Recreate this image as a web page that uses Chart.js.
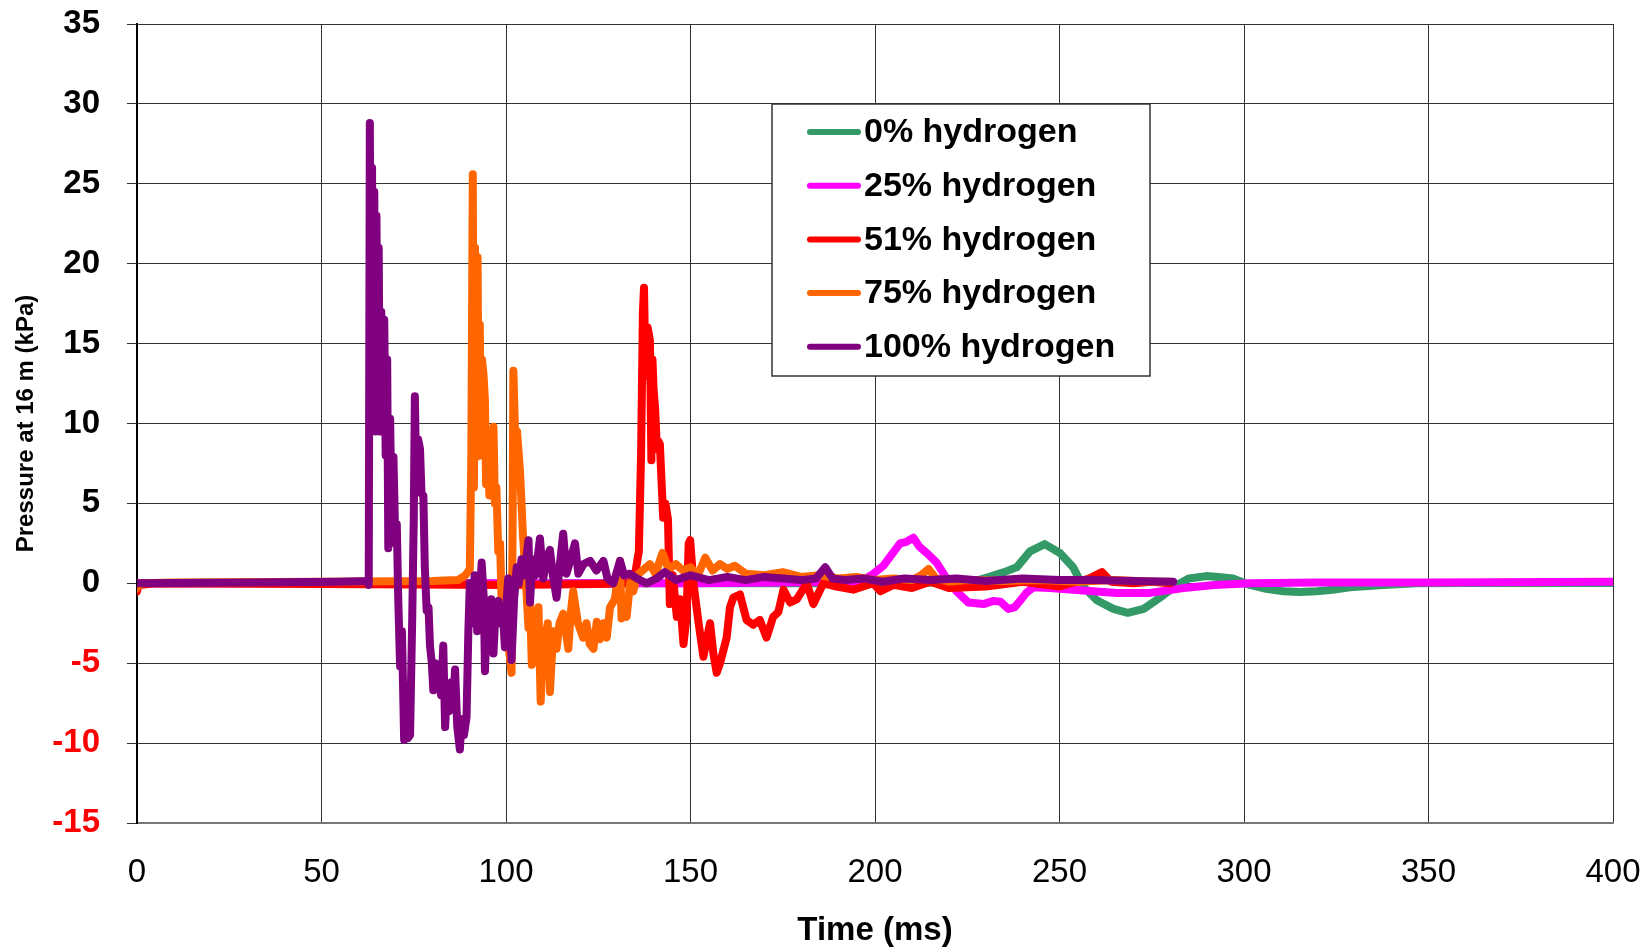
<!DOCTYPE html>
<html>
<head>
<meta charset="utf-8">
<title>Pressure at 16 m</title>
<script src="https://cdn.jsdelivr.net/npm/chart.js@4.4.1/dist/chart.umd.min.js"></script>
<style>
  html, body { margin: 0; padding: 0; background: #fff; }
  #wrap { width: 1652px; height: 949px; position: relative; }
</style>
</head>
<body>
<div id="wrap"><canvas id="pressureChart"></canvas></div>
<script>
const FONT = 'Arial, "Liberation Sans", sans-serif';

const seriesLabels = ["0% hydrogen", "25% hydrogen", "51% hydrogen", "75% hydrogen", "100% hydrogen"];
const seriesColors = ["#339966", "#FF00FF", "#FF0000", "#FF6600", "#800080"];

// [time (ms), pressure (kPa)]
const h0 = [[0,0],[100,0],[200,0],[220,0.05],[228,0.2],[231,0.4],[235,0.7],[238.4,1.0],[242,2.0],[246,2.45],
  [250.1,1.9],[253.7,1.0],[256.4,-0.2],[260.1,-1.06],[264.6,-1.6],[268.5,-1.85],[272.8,-1.6],[277.2,-0.9],
  [281.8,-0.1],[285,0.3],[289.8,0.45],[293,0.4],[297,0.3],[301.6,-0.1],[306,-0.35],[310.7,-0.5],[315,-0.55],
  [319.7,-0.5],[324,-0.4],[328.7,-0.25],[337.7,-0.1],[346.8,0],[360,0.02],[400,0.02]];

const h25 = [[0,0],[150,0],[196,0.1],[199,0.5],[202.3,1.1],[204.5,1.8],[206.8,2.5],[208.5,2.6],[210.4,2.85],
  [212,2.3],[214,1.9],[216.7,1.3],[219.4,0.3],[222.1,-0.5],[225.3,-1.2],[229.4,-1.3],[232.1,-1.1],[234,-1.15],
  [236.1,-1.6],[237.8,-1.5],[239.3,-1.1],[241,-0.6],[242.9,-0.25],[247.4,-0.3],[256.4,-0.45],[265.5,-0.6],
  [274.5,-0.6],[283.6,-0.3],[292,-0.1],[301.6,0],[320,0.05],[350,0.05],[400,0.1]];

const h51 = [[0,-0.5],[0.5,-0.1],[5,0],[50,-0.05],[100,-0.1],[125,-0.05],[133.5,0],[135,0.6],[136,2],[136.6,8],
  [137.1,17],[137.4,18.5],[137.8,13],[138.4,16],[139.0,15.2],[139.4,7.7],[139.7,14],[140.0,12.1],[140.4,11.0],
  [140.9,8.4],[141.3,8.9],[141.7,8.7],[142.6,4.1],[143.2,5],[143.9,4.0],[144.4,-1.3],[145.2,0.5],[146.3,-2.1],
  [147.2,-1.0],[148.1,-3.8],[148.9,-2.2],[149.5,2.5],[149.9,2.7],[150.8,0],[152.2,-2.5],[153.5,-4.6],[154.4,-3.5],
  [155.3,-2.5],[156.2,-4.4],[157.1,-5.6],[158.0,-5.0],[158.9,-4.2],[159.8,-3.4],[160.7,-1.5],[161.6,-0.9],
  [163.4,-0.7],[165.2,-2.3],[167.0,-2.6],[168.8,-2.3],[170.6,-3.4],[172.4,-2.1],[173.8,-1.8],[175.2,-0.4],
  [177,-1.2],[178.8,-1.0],[181.5,0],[183.3,-1.3],[186.0,0],[189.6,-0.2],[194.1,-0.4],[199.5,0],[201.5,-0.5],
  [205,-0.1],[210,-0.3],[215,0.1],[220,-0.3],[230,-0.2],[240,0.1],[250,-0.2],[258,0.3],[261.5,0.7],[264,0.1],
  [270,0],[275,0.1],[280,0]];

const h75 = [[0,-0.3],[1,0],[10,0.05],[50,0.1],[80,0.15],[87,0.2],[89,0.5],[90.2,0.9],[90.6,8],[91.0,25.6],
  [91.3,6],[91.6,21],[92.0,7.9],[92.3,20.4],[92.6,8.5],[92.9,16.2],[93.2,8],[93.5,14],[93.9,13.1],[94.3,11.4],
  [94.6,6.2],[95.0,8.3],[95.5,5.5],[96.0,7],[96.6,9.8],[97.0,5],[97.4,6.0],[97.9,2.0],[98.4,2.5],[98.8,-1.1],
  [99.5,-2],[100.2,-3.5],[101.0,-4.5],[101.5,-5.6],[101.8,4],[102.0,13.3],[102.5,9],[103.0,9.5],[103.8,7.0],
  [104.6,3.0],[105.3,0.5],[106.1,-2.8],[106.5,-1],[107.0,-5.1],[107.8,-2.5],[108.8,-1.5],[109.4,-7.4],[110.0,-3],
  [110.6,-3.6],[111.3,-2.5],[111.9,-6.8],[112.8,-3],[113.7,-4.1],[114.5,-2.5],[115.5,-1.9],[116.2,-3],[116.9,-4.1],
  [117.5,-2],[118.2,-0.5],[119.5,-2.5],[120.9,-3.4],[121.8,-2.5],[122.7,-3.8],[123.7,-4.1],[124.6,-2.4],
  [125.5,-3.5],[126.4,-2.5],[127.3,-3.4],[128.2,-1.5],[129.5,-1],[130.9,1.4],[131.3,-2.2],[132.0,-1.5],
  [132.7,-2.1],[133.6,0],[134.5,-0.5],[135.5,0.5],[137,0.8],[139,1.2],[140.5,0.6],[142.4,1.9],[144,0.9],
  [146,1.2],[148,0.8],[150,1.0],[152,0.5],[154,1.6],[156,0.8],[158,1.2],[160,0.9],[162,1.1],[165,0.6],[170,0.5],
  [175,0.7],[180,0.4],[185,0.5],[190,0.3],[195,0.4],[200,0.2],[205,0.3],[210,0.2],[212.5,0.5],[214.5,0.9],
  [216.5,0.3],[220,0.1],[225,0.2],[235,0.15],[245,0.2],[255,0.1],[265,0.2],[275,0.1],[280,0.1]];

const h100 = [[0,0],[30,0.05],[55,0.1],[62.5,0.15],[62.8,-0.1],[63.1,28.8],[63.4,11],[63.7,26],[64.0,10],
  [64.3,24.5],[64.6,9.5],[64.9,23],[65.2,10],[65.5,21],[65.8,9.5],[66.2,17],[66.6,9.5],[67.0,16.5],[67.4,8],
  [67.8,14],[68.1,2.2],[68.6,10.3],[69.0,4],[69.5,7.9],[70.0,2.5],[70.4,3.7],[70.8,-1],[71.3,-5.2],[71.8,-3],
  [72.4,-9.8],[72.9,-7],[73.4,-9.7],[74.0,-9.5],[74.6,-2],[75.0,4],[75.3,11.7],[75.7,6],[76.2,9],[76.7,8.4],
  [77.1,5.6],[77.6,5.5],[78.0,1],[78.5,-1.7],[79.0,-1.5],[79.4,-3.9],[79.9,-5],[80.3,-6.7],[80.8,-5],[81.3,-6.5],
  [81.8,-5.5],[82.4,-7],[83.0,-3.9],[83.5,-9.0],[84.0,-6.5],[84.6,-8],[85.2,-6.2],[85.7,-7.5],[86.2,-5.4],
  [86.8,-9],[87.5,-10.4],[88.0,-8.5],[88.6,-9.5],[89.3,-8.4],[89.8,-3],[90.2,0],[90.8,-2.5],[91.5,0.5],[92.2,-3],
  [92.8,-1.5],[93.4,1.3],[94.0,-1],[94.3,-5.5],[94.8,-2],[95.5,-3],[96.0,-1],[96.6,-4.4],[97.2,-1.5],[97.9,-1.1],
  [98.5,-2.5],[99.2,-2],[99.7,-4],[100.2,-1],[100.6,0.3],[101.0,-2],[101.5,-4.8],[102.2,-1],[102.9,1.0],[103.5,0],
  [104.2,1.5],[105.0,0.5],[106.1,2.7],[106.5,-1.2],[107.2,1.5],[108.0,0.5],[109.2,2.8],[110.1,0.3],[111.0,1.5],
  [111.9,2.1],[112.7,0.5],[113.7,-0.9],[114.5,1],[115.5,3.1],[116.4,0.6],[117.5,1.5],[118.7,2.5],[119.6,0.6],
  [121.0,1.2],[122.8,1.4],[124.5,0.8],[126.4,1.4],[127.5,0.3],[129.1,0],[130.9,1.4],[132.0,0.5],[133.6,0.6],
  [135.5,0.3],[138.1,0],[140.8,0.3],[143,0.7],[146,0.2],[150,0.5],[155,0.2],[160,0.4],[165,0.2],[170,0.4],
  [175,0.3],[180,0.2],[184,0.3],[186.5,1.0],[188.5,0.3],[192,0.2],[197,0.3],[202,0.1],[208,0.3],[215,0.2],
  [222,0.3],[230,0.15],[240,0.3],[250,0.2],[260,0.2],[270,0.15],[280.8,0.1]];

const seriesData = [h0, h25, h51, h75, h100];

// legend box drawn inside the plot area (Excel style)
const boxLegend = {
    id: "boxLegend",
    afterDatasetsDraw(chart) {
        const { ctx, chartArea } = chart;
        const left = chartArea.left + 635;
        const top = chartArea.top + 80;
        const w = 378, h = 272;
        ctx.save();
        ctx.fillStyle = "#fff";
        ctx.fillRect(left, top, w, h);
        ctx.strokeStyle = "#333";
        ctx.lineWidth = 1.5;
        ctx.strokeRect(left, top, w, h);
        ctx.font = "bold 34px " + FONT;
        ctx.textBaseline = "middle";
        chart.data.datasets.forEach((ds, i) => {
            const y = top + 28 + i * 53.7;
            ctx.strokeStyle = ds.borderColor;
            ctx.lineWidth = 6;
            ctx.lineCap = "round";
            ctx.beginPath();
            ctx.moveTo(left + 38, y);
            ctx.lineTo(left + 86, y);
            ctx.stroke();
            ctx.fillStyle = "#000";
            ctx.fillText(ds.label, left + 92, y + 1);
        });
        ctx.restore();
    }
};

new Chart(document.getElementById("pressureChart"), {
    type: "line",
    data: {
        datasets: seriesData.map((pts, i) => ({
            label: seriesLabels[i],
            data: pts.map(([x, y]) => ({ x, y })),
            borderColor: seriesColors[i],
            backgroundColor: seriesColors[i],
            borderWidth: 8,
            pointRadius: 0,
            tension: 0,
            fill: false,
            borderJoinStyle: "round",
            borderCapStyle: "round",
            order: 5 - i   // later series on top, like the original
        }))
    },
    options: {
        responsive: true,
        maintainAspectRatio: false,
        animation: false,
        layout: { padding: { top: 24, right: 39, left: 0, bottom: 0 } },
        plugins: {
            legend: { display: false },
            tooltip: { enabled: false }
        },
        scales: {
            x: {
                type: "linear",
                min: 0,
                max: 400,
                // fixed axis height; drop the label overflow padding so layout.padding decides
                afterFit: (s) => { s.height = 126; s.paddingLeft = 0; s.paddingRight = 0; },
                ticks: { stepSize: 50, padding: 30, maxRotation: 0, color: "#000",
                         font: { family: FONT, size: 33 } },
                grid: { color: "#333", lineWidth: 1, drawTicks: false },
                border: { color: "#777", width: 2 },
                title: { display: true, text: "Time (ms)", color: "#000",
                         font: { family: FONT, size: 33, weight: "bold" },
                         padding: { top: 0, bottom: -2 } }
            },
            y: {
                min: -15,
                max: 35,
                afterFit: (s) => { s.width = 137; s.paddingTop = 0; s.paddingBottom = 0; },
                ticks: { stepSize: 5, padding: 27,
                         color: (c) => c.tick.value < 0 ? "#FF0000" : "#000",
                         font: { family: FONT, size: 33, weight: "bold" } },
                grid: { color: "#333", lineWidth: 1, tickLength: 10 },
                border: { color: "#000", width: 2 },
                title: { display: true, text: "Pressure at 16 m (kPa)", color: "#000",
                         font: { family: FONT, size: 24, weight: "bold" },
                         padding: { top: 12, bottom: 0 } }
            }
        }
    },
    plugins: [boxLegend]
});
</script>
</body>
</html>
